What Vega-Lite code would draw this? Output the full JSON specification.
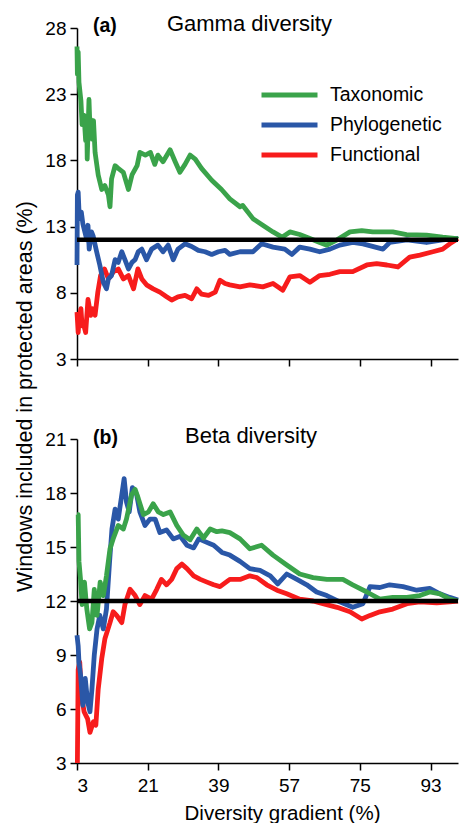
{
  "$schema": "https://vega.github.io/schema/vega-lite/v6.json",
  "padding": {"left": 14, "top": 12, "right": 0, "bottom": 0},
  "config": {
    "font": "Liberation Sans",
    "view": {"stroke": null},
    "axis": {"domainColor": "black", "domainWidth": 1.5, "tickColor": "black", "tickWidth": 1.5, "tickSize": 7, "labelColor": "black", "labelFontSize": 19, "labelFont": "Liberation Sans", "grid": false, "titleFont": "Liberation Sans", "titleColor": "black", "titleFontWeight": "normal"},
    "legend": {"orient": "none", "legendX": 182, "legendY": 53, "symbolType": "stroke", "symbolSize": 3136, "symbolStrokeWidth": 5, "labelFontSize": 19.5, "labelFont": "Liberation Sans", "labelColor": "black", "clipHeight": 28, "rowPadding": 2, "labelOffset": 10, "padding": 0}
  },
  "datasets": {
    "gamma": [
      {"s": "Functional", "x": 3, "y": 6.55}, {"s": "Functional", "x": 3.3, "y": 5.0}, {"s": "Functional", "x": 3.6, "y": 6.2}, {"s": "Functional", "x": 4, "y": 6.8}, {"s": "Functional", "x": 4.3, "y": 5.5}, {"s": "Functional", "x": 4.7, "y": 5.6}, {"s": "Functional", "x": 5.2, "y": 5.0}, {"s": "Functional", "x": 5.8, "y": 7.5}, {"s": "Functional", "x": 6.5, "y": 6.3}, {"s": "Functional", "x": 7, "y": 6.8}, {"s": "Functional", "x": 7.6, "y": 6.3}, {"s": "Functional", "x": 8.3, "y": 8.05}, {"s": "Functional", "x": 9, "y": 9.3}, {"s": "Functional", "x": 10, "y": 9.8}, {"s": "Functional", "x": 11, "y": 9.05}, {"s": "Functional", "x": 12.3, "y": 9.6}, {"s": "Functional", "x": 13.5, "y": 9.8}, {"s": "Functional", "x": 14.8, "y": 9.05}, {"s": "Functional", "x": 16.1, "y": 9.3}, {"s": "Functional", "x": 17.4, "y": 8.3}, {"s": "Functional", "x": 18.5, "y": 9.8}, {"s": "Functional", "x": 19.5, "y": 9.05}, {"s": "Functional", "x": 20.7, "y": 8.6}, {"s": "Functional", "x": 22.4, "y": 8.3}, {"s": "Functional", "x": 24.1, "y": 8.05}, {"s": "Functional", "x": 25.8, "y": 7.7}, {"s": "Functional", "x": 27.1, "y": 7.45}, {"s": "Functional", "x": 28.7, "y": 7.7}, {"s": "Functional", "x": 30.5, "y": 7.8}, {"s": "Functional", "x": 32.2, "y": 7.55}, {"s": "Functional", "x": 33.5, "y": 8.3}, {"s": "Functional", "x": 34.7, "y": 7.9}, {"s": "Functional", "x": 36.5, "y": 7.8}, {"s": "Functional", "x": 38.2, "y": 8.05}, {"s": "Functional", "x": 39.4, "y": 8.95}, {"s": "Functional", "x": 40.7, "y": 8.7}, {"s": "Functional", "x": 41.9, "y": 8.6}, {"s": "Functional", "x": 44.5, "y": 8.45}, {"s": "Functional", "x": 47, "y": 8.6}, {"s": "Functional", "x": 50.3, "y": 8.45}, {"s": "Functional", "x": 52.9, "y": 8.7}, {"s": "Functional", "x": 55.4, "y": 8.2}, {"s": "Functional", "x": 57.2, "y": 9.2}, {"s": "Functional", "x": 59.7, "y": 9.3}, {"s": "Functional", "x": 62.3, "y": 8.8}, {"s": "Functional", "x": 64.8, "y": 9.3}, {"s": "Functional", "x": 67.4, "y": 9.4}, {"s": "Functional", "x": 69.9, "y": 9.6}, {"s": "Functional", "x": 73.2, "y": 9.6}, {"s": "Functional", "x": 76.8, "y": 10.1}, {"s": "Functional", "x": 79.3, "y": 10.2}, {"s": "Functional", "x": 81.9, "y": 10.1}, {"s": "Functional", "x": 84.7, "y": 9.95}, {"s": "Functional", "x": 87.7, "y": 10.7}, {"s": "Functional", "x": 90.3, "y": 10.85}, {"s": "Functional", "x": 93.6, "y": 11.1}, {"s": "Functional", "x": 96.1, "y": 11.3}, {"s": "Functional", "x": 97.9, "y": 11.7}, {"s": "Functional", "x": 99.7, "y": 12.05}, {"s": "Functional", "x": 100, "y": 12.1},
      {"s": "Phylogenetic", "x": 3, "y": 10.1}, {"s": "Phylogenetic", "x": 3.1, "y": 15.4}, {"s": "Phylogenetic", "x": 3.3, "y": 15.6}, {"s": "Phylogenetic", "x": 3.5, "y": 14.2}, {"s": "Phylogenetic", "x": 3.7, "y": 13.6}, {"s": "Phylogenetic", "x": 4.1, "y": 14.1}, {"s": "Phylogenetic", "x": 4.5, "y": 13.2}, {"s": "Phylogenetic", "x": 5, "y": 12.6}, {"s": "Phylogenetic", "x": 5.5, "y": 12.0}, {"s": "Phylogenetic", "x": 5.8, "y": 13.1}, {"s": "Phylogenetic", "x": 6.1, "y": 11.3}, {"s": "Phylogenetic", "x": 6.7, "y": 12.6}, {"s": "Phylogenetic", "x": 7.1, "y": 12.3}, {"s": "Phylogenetic", "x": 8, "y": 11.1}, {"s": "Phylogenetic", "x": 8.8, "y": 10.1}, {"s": "Phylogenetic", "x": 9.7, "y": 8.8}, {"s": "Phylogenetic", "x": 10.5, "y": 8.3}, {"s": "Phylogenetic", "x": 11, "y": 9.05}, {"s": "Phylogenetic", "x": 11.8, "y": 9.3}, {"s": "Phylogenetic", "x": 12.7, "y": 10.5}, {"s": "Phylogenetic", "x": 13.5, "y": 10.3}, {"s": "Phylogenetic", "x": 14.4, "y": 11.1}, {"s": "Phylogenetic", "x": 15.2, "y": 10.5}, {"s": "Phylogenetic", "x": 16.1, "y": 9.8}, {"s": "Phylogenetic", "x": 17, "y": 10.3}, {"s": "Phylogenetic", "x": 17.8, "y": 10.5}, {"s": "Phylogenetic", "x": 18.6, "y": 11.1}, {"s": "Phylogenetic", "x": 19.5, "y": 11.3}, {"s": "Phylogenetic", "x": 20.7, "y": 10.5}, {"s": "Phylogenetic", "x": 22, "y": 11.3}, {"s": "Phylogenetic", "x": 23.6, "y": 11.6}, {"s": "Phylogenetic", "x": 24.9, "y": 11.1}, {"s": "Phylogenetic", "x": 26.2, "y": 11.6}, {"s": "Phylogenetic", "x": 27.5, "y": 10.5}, {"s": "Phylogenetic", "x": 28.7, "y": 11.3}, {"s": "Phylogenetic", "x": 30.5, "y": 11.7}, {"s": "Phylogenetic", "x": 32.2, "y": 11.5}, {"s": "Phylogenetic", "x": 33.9, "y": 11.2}, {"s": "Phylogenetic", "x": 35.6, "y": 11.1}, {"s": "Phylogenetic", "x": 37.3, "y": 10.9}, {"s": "Phylogenetic", "x": 39, "y": 11.1}, {"s": "Phylogenetic", "x": 40.7, "y": 11.2}, {"s": "Phylogenetic", "x": 41.9, "y": 10.9}, {"s": "Phylogenetic", "x": 44.5, "y": 11.1}, {"s": "Phylogenetic", "x": 47.8, "y": 11.1}, {"s": "Phylogenetic", "x": 50, "y": 11.7}, {"s": "Phylogenetic", "x": 52.9, "y": 11.45}, {"s": "Phylogenetic", "x": 55.9, "y": 11.3}, {"s": "Phylogenetic", "x": 57.7, "y": 10.9}, {"s": "Phylogenetic", "x": 59.7, "y": 11.45}, {"s": "Phylogenetic", "x": 62.3, "y": 11.3}, {"s": "Phylogenetic", "x": 64.8, "y": 11.1}, {"s": "Phylogenetic", "x": 67.4, "y": 11.3}, {"s": "Phylogenetic", "x": 69.9, "y": 11.6}, {"s": "Phylogenetic", "x": 73.2, "y": 11.8}, {"s": "Phylogenetic", "x": 75.8, "y": 11.7}, {"s": "Phylogenetic", "x": 80.9, "y": 11.3}, {"s": "Phylogenetic", "x": 82.6, "y": 11.8}, {"s": "Phylogenetic", "x": 87, "y": 12.0}, {"s": "Phylogenetic", "x": 92, "y": 11.8}, {"s": "Phylogenetic", "x": 96.1, "y": 12.0}, {"s": "Phylogenetic", "x": 99.7, "y": 12.1}, {"s": "Phylogenetic", "x": 100, "y": 12.1},
      {"s": "Taxonomic", "x": 3, "y": 26.6}, {"s": "Taxonomic", "x": 3.1, "y": 24.5}, {"s": "Taxonomic", "x": 3.3, "y": 26.2}, {"s": "Taxonomic", "x": 3.5, "y": 23.9}, {"s": "Taxonomic", "x": 4, "y": 22.5}, {"s": "Taxonomic", "x": 4.3, "y": 20.7}, {"s": "Taxonomic", "x": 4.8, "y": 21.4}, {"s": "Taxonomic", "x": 5.2, "y": 19.5}, {"s": "Taxonomic", "x": 5.5, "y": 20.5}, {"s": "Taxonomic", "x": 5.6, "y": 18.1}, {"s": "Taxonomic", "x": 6.05, "y": 22.6}, {"s": "Taxonomic", "x": 6.3, "y": 20.5}, {"s": "Taxonomic", "x": 6.5, "y": 21.1}, {"s": "Taxonomic", "x": 6.9, "y": 19.6}, {"s": "Taxonomic", "x": 7.2, "y": 21}, {"s": "Taxonomic", "x": 7.6, "y": 18.6}, {"s": "Taxonomic", "x": 8.4, "y": 16.9}, {"s": "Taxonomic", "x": 9.3, "y": 15.8}, {"s": "Taxonomic", "x": 10.1, "y": 16.1}, {"s": "Taxonomic", "x": 11, "y": 15.4}, {"s": "Taxonomic", "x": 11.4, "y": 14.5}, {"s": "Taxonomic", "x": 11.8, "y": 16.6}, {"s": "Taxonomic", "x": 12.7, "y": 17.6}, {"s": "Taxonomic", "x": 13.5, "y": 17.4}, {"s": "Taxonomic", "x": 14.8, "y": 17.1}, {"s": "Taxonomic", "x": 16.1, "y": 15.8}, {"s": "Taxonomic", "x": 17, "y": 16.9}, {"s": "Taxonomic", "x": 18.3, "y": 17.6}, {"s": "Taxonomic", "x": 19, "y": 18.6}, {"s": "Taxonomic", "x": 20.4, "y": 18.4}, {"s": "Taxonomic", "x": 21.7, "y": 18.6}, {"s": "Taxonomic", "x": 22.8, "y": 17.7}, {"s": "Taxonomic", "x": 23.6, "y": 18.4}, {"s": "Taxonomic", "x": 24.9, "y": 17.9}, {"s": "Taxonomic", "x": 26.7, "y": 18.8}, {"s": "Taxonomic", "x": 28, "y": 17.9}, {"s": "Taxonomic", "x": 29.2, "y": 17.1}, {"s": "Taxonomic", "x": 30.5, "y": 17.7}, {"s": "Taxonomic", "x": 31.8, "y": 18.4}, {"s": "Taxonomic", "x": 33.1, "y": 18.1}, {"s": "Taxonomic", "x": 34.7, "y": 17.4}, {"s": "Taxonomic", "x": 37.3, "y": 16.5}, {"s": "Taxonomic", "x": 39.8, "y": 15.8}, {"s": "Taxonomic", "x": 41.9, "y": 15.1}, {"s": "Taxonomic", "x": 44.5, "y": 14.5}, {"s": "Taxonomic", "x": 45.2, "y": 14.6}, {"s": "Taxonomic", "x": 47.8, "y": 13.6}, {"s": "Taxonomic", "x": 50.3, "y": 13.1}, {"s": "Taxonomic", "x": 52.9, "y": 12.6}, {"s": "Taxonomic", "x": 55.2, "y": 12.2}, {"s": "Taxonomic", "x": 57.2, "y": 12.6}, {"s": "Taxonomic", "x": 59.7, "y": 12.4}, {"s": "Taxonomic", "x": 62.3, "y": 12.1}, {"s": "Taxonomic", "x": 64.8, "y": 11.8}, {"s": "Taxonomic", "x": 66.6, "y": 11.6}, {"s": "Taxonomic", "x": 69.2, "y": 12.0}, {"s": "Taxonomic", "x": 72.5, "y": 12.6}, {"s": "Taxonomic", "x": 75.5, "y": 12.7}, {"s": "Taxonomic", "x": 78.3, "y": 12.6}, {"s": "Taxonomic", "x": 83.4, "y": 12.6}, {"s": "Taxonomic", "x": 86.9, "y": 12.4}, {"s": "Taxonomic", "x": 92, "y": 12.35}, {"s": "Taxonomic", "x": 96.1, "y": 12.2}, {"s": "Taxonomic", "x": 99.7, "y": 12.1}, {"s": "Taxonomic", "x": 100, "y": 12.05}
    ],
    "beta": [
      {"s": "Functional", "x": 3.1, "y": 3.0}, {"s": "Functional", "x": 3.3, "y": 8.2}, {"s": "Functional", "x": 3.7, "y": 8.6}, {"s": "Functional", "x": 4.1, "y": 6.8}, {"s": "Functional", "x": 4.8, "y": 5.85}, {"s": "Functional", "x": 5.7, "y": 5.45}, {"s": "Functional", "x": 6.3, "y": 4.7}, {"s": "Functional", "x": 7.2, "y": 5.3}, {"s": "Functional", "x": 7.8, "y": 5.1}, {"s": "Functional", "x": 8.4, "y": 7.1}, {"s": "Functional", "x": 9.3, "y": 8.8}, {"s": "Functional", "x": 10.1, "y": 9.9}, {"s": "Functional", "x": 11.4, "y": 10.8}, {"s": "Functional", "x": 12.2, "y": 11.4}, {"s": "Functional", "x": 13.1, "y": 11.2}, {"s": "Functional", "x": 14.4, "y": 10.8}, {"s": "Functional", "x": 15.2, "y": 11.8}, {"s": "Functional", "x": 16.5, "y": 12.65}, {"s": "Functional", "x": 17.8, "y": 12.3}, {"s": "Functional", "x": 19, "y": 11.8}, {"s": "Functional", "x": 20.3, "y": 12.3}, {"s": "Functional", "x": 22, "y": 12.1}, {"s": "Functional", "x": 23.3, "y": 12.65}, {"s": "Functional", "x": 24.5, "y": 13.2}, {"s": "Functional", "x": 25.8, "y": 12.9}, {"s": "Functional", "x": 27.1, "y": 13.2}, {"s": "Functional", "x": 28.4, "y": 13.8}, {"s": "Functional", "x": 29.7, "y": 14.05}, {"s": "Functional", "x": 31, "y": 13.8}, {"s": "Functional", "x": 32.7, "y": 13.4}, {"s": "Functional", "x": 34.4, "y": 13.2}, {"s": "Functional", "x": 36.1, "y": 13.05}, {"s": "Functional", "x": 37.8, "y": 12.9}, {"s": "Functional", "x": 39.4, "y": 12.8}, {"s": "Functional", "x": 41.9, "y": 13.2}, {"s": "Functional", "x": 44.5, "y": 13.2}, {"s": "Functional", "x": 47, "y": 13.4}, {"s": "Functional", "x": 48.8, "y": 13.3}, {"s": "Functional", "x": 51.3, "y": 12.9}, {"s": "Functional", "x": 53.9, "y": 12.6}, {"s": "Functional", "x": 56.4, "y": 12.4}, {"s": "Functional", "x": 59.7, "y": 12.1}, {"s": "Functional", "x": 63.1, "y": 12.0}, {"s": "Functional", "x": 65.6, "y": 11.85}, {"s": "Functional", "x": 69.2, "y": 11.65}, {"s": "Functional", "x": 72.5, "y": 11.4}, {"s": "Functional", "x": 75.5, "y": 11.0}, {"s": "Functional", "x": 77.6, "y": 11.2}, {"s": "Functional", "x": 80.1, "y": 11.4}, {"s": "Functional", "x": 83.4, "y": 11.55}, {"s": "Functional", "x": 87, "y": 11.85}, {"s": "Functional", "x": 90.3, "y": 11.95}, {"s": "Functional", "x": 94.6, "y": 11.9}, {"s": "Functional", "x": 97.9, "y": 11.95}, {"s": "Functional", "x": 100, "y": 12.0},
      {"s": "Phylogenetic", "x": 3, "y": 10.1}, {"s": "Phylogenetic", "x": 3.3, "y": 9.5}, {"s": "Phylogenetic", "x": 3.5, "y": 8.6}, {"s": "Phylogenetic", "x": 3.9, "y": 7.9}, {"s": "Phylogenetic", "x": 4.5, "y": 6.2}, {"s": "Phylogenetic", "x": 5.1, "y": 7.7}, {"s": "Phylogenetic", "x": 5.7, "y": 6.4}, {"s": "Phylogenetic", "x": 6.3, "y": 5.85}, {"s": "Phylogenetic", "x": 6.8, "y": 7.1}, {"s": "Phylogenetic", "x": 7.4, "y": 9.0}, {"s": "Phylogenetic", "x": 8.1, "y": 10.45}, {"s": "Phylogenetic", "x": 8.8, "y": 11.2}, {"s": "Phylogenetic", "x": 9.7, "y": 10.45}, {"s": "Phylogenetic", "x": 10.5, "y": 11.55}, {"s": "Phylogenetic", "x": 11.3, "y": 14.2}, {"s": "Phylogenetic", "x": 11.9, "y": 16.0}, {"s": "Phylogenetic", "x": 12.7, "y": 17.1}, {"s": "Phylogenetic", "x": 13.5, "y": 16.55}, {"s": "Phylogenetic", "x": 14.4, "y": 17.9}, {"s": "Phylogenetic", "x": 15, "y": 18.8}, {"s": "Phylogenetic", "x": 15.6, "y": 17.5}, {"s": "Phylogenetic", "x": 16.3, "y": 16.95}, {"s": "Phylogenetic", "x": 17.1, "y": 18.3}, {"s": "Phylogenetic", "x": 18.2, "y": 17.9}, {"s": "Phylogenetic", "x": 19, "y": 16.95}, {"s": "Phylogenetic", "x": 20.3, "y": 16.2}, {"s": "Phylogenetic", "x": 21.6, "y": 16.55}, {"s": "Phylogenetic", "x": 22.9, "y": 16.55}, {"s": "Phylogenetic", "x": 24.1, "y": 15.8}, {"s": "Phylogenetic", "x": 25.8, "y": 15.95}, {"s": "Phylogenetic", "x": 27.5, "y": 15.45}, {"s": "Phylogenetic", "x": 29.3, "y": 15.6}, {"s": "Phylogenetic", "x": 31, "y": 15.1}, {"s": "Phylogenetic", "x": 32.7, "y": 14.95}, {"s": "Phylogenetic", "x": 34, "y": 15.45}, {"s": "Phylogenetic", "x": 35.6, "y": 15.3}, {"s": "Phylogenetic", "x": 37.8, "y": 15.1}, {"s": "Phylogenetic", "x": 39.9, "y": 14.7}, {"s": "Phylogenetic", "x": 41.9, "y": 14.55}, {"s": "Phylogenetic", "x": 44.5, "y": 14.2}, {"s": "Phylogenetic", "x": 47, "y": 13.8}, {"s": "Phylogenetic", "x": 49.6, "y": 13.7}, {"s": "Phylogenetic", "x": 52.2, "y": 13.4}, {"s": "Phylogenetic", "x": 54.1, "y": 12.95}, {"s": "Phylogenetic", "x": 56.4, "y": 13.5}, {"s": "Phylogenetic", "x": 59, "y": 13.2}, {"s": "Phylogenetic", "x": 61.5, "y": 12.9}, {"s": "Phylogenetic", "x": 64, "y": 12.5}, {"s": "Phylogenetic", "x": 66.6, "y": 12.3}, {"s": "Phylogenetic", "x": 69.9, "y": 11.95}, {"s": "Phylogenetic", "x": 73.2, "y": 11.65}, {"s": "Phylogenetic", "x": 75.8, "y": 11.85}, {"s": "Phylogenetic", "x": 77.6, "y": 12.8}, {"s": "Phylogenetic", "x": 80.1, "y": 12.75}, {"s": "Phylogenetic", "x": 82.6, "y": 12.9}, {"s": "Phylogenetic", "x": 86, "y": 12.8}, {"s": "Phylogenetic", "x": 89.5, "y": 12.6}, {"s": "Phylogenetic", "x": 92.8, "y": 12.7}, {"s": "Phylogenetic", "x": 95.4, "y": 12.4}, {"s": "Phylogenetic", "x": 97.9, "y": 12.2}, {"s": "Phylogenetic", "x": 100, "y": 12.05},
      {"s": "Taxonomic", "x": 3, "y": 16.8}, {"s": "Taxonomic", "x": 3.3, "y": 16.8}, {"s": "Taxonomic", "x": 3.5, "y": 14.2}, {"s": "Taxonomic", "x": 3.9, "y": 13.2}, {"s": "Taxonomic", "x": 4.3, "y": 11.8}, {"s": "Taxonomic", "x": 4.9, "y": 13.05}, {"s": "Taxonomic", "x": 5.5, "y": 11.55}, {"s": "Taxonomic", "x": 6.2, "y": 10.45}, {"s": "Taxonomic", "x": 6.8, "y": 10.8}, {"s": "Taxonomic", "x": 7.4, "y": 12.65}, {"s": "Taxonomic", "x": 8.1, "y": 11.2}, {"s": "Taxonomic", "x": 8.9, "y": 13.05}, {"s": "Taxonomic", "x": 9.7, "y": 12.3}, {"s": "Taxonomic", "x": 10.5, "y": 13.4}, {"s": "Taxonomic", "x": 11.4, "y": 14.9}, {"s": "Taxonomic", "x": 12.2, "y": 15.45}, {"s": "Taxonomic", "x": 13.5, "y": 16.2}, {"s": "Taxonomic", "x": 14.8, "y": 16.0}, {"s": "Taxonomic", "x": 15.6, "y": 16.55}, {"s": "Taxonomic", "x": 16.9, "y": 17.9}, {"s": "Taxonomic", "x": 17.8, "y": 18.2}, {"s": "Taxonomic", "x": 18.6, "y": 17.7}, {"s": "Taxonomic", "x": 19.9, "y": 16.8}, {"s": "Taxonomic", "x": 21.2, "y": 16.95}, {"s": "Taxonomic", "x": 22.4, "y": 17.4}, {"s": "Taxonomic", "x": 23.7, "y": 16.95}, {"s": "Taxonomic", "x": 25, "y": 16.8}, {"s": "Taxonomic", "x": 26.7, "y": 16.95}, {"s": "Taxonomic", "x": 28.4, "y": 16.2}, {"s": "Taxonomic", "x": 30.1, "y": 15.65}, {"s": "Taxonomic", "x": 31.8, "y": 15.4}, {"s": "Taxonomic", "x": 33.5, "y": 16.0}, {"s": "Taxonomic", "x": 35.2, "y": 15.5}, {"s": "Taxonomic", "x": 36.9, "y": 16.0}, {"s": "Taxonomic", "x": 38.6, "y": 15.85}, {"s": "Taxonomic", "x": 39.9, "y": 15.9}, {"s": "Taxonomic", "x": 41.9, "y": 15.8}, {"s": "Taxonomic", "x": 44.5, "y": 15.45}, {"s": "Taxonomic", "x": 47, "y": 14.9}, {"s": "Taxonomic", "x": 50, "y": 15.1}, {"s": "Taxonomic", "x": 52.9, "y": 14.55}, {"s": "Taxonomic", "x": 56.4, "y": 14.0}, {"s": "Taxonomic", "x": 59.7, "y": 13.5}, {"s": "Taxonomic", "x": 63.1, "y": 13.3}, {"s": "Taxonomic", "x": 66.6, "y": 13.2}, {"s": "Taxonomic", "x": 70.7, "y": 13.2}, {"s": "Taxonomic", "x": 73.2, "y": 12.9}, {"s": "Taxonomic", "x": 76.8, "y": 12.5}, {"s": "Taxonomic", "x": 80.1, "y": 12.1}, {"s": "Taxonomic", "x": 83.4, "y": 12.2}, {"s": "Taxonomic", "x": 87, "y": 12.2}, {"s": "Taxonomic", "x": 90.3, "y": 12.3}, {"s": "Taxonomic", "x": 92.8, "y": 12.5}, {"s": "Taxonomic", "x": 95.4, "y": 12.4}, {"s": "Taxonomic", "x": 97.9, "y": 12.1}, {"s": "Taxonomic", "x": 100, "y": 12.0}
    ]
  },
  "resolve": {"scale": {"color": "independent"}, "legend": {"color": "independent"}},
  "bounds": "flush",
  "spacing": 80,
  "vconcat": [
    {
      "width": 381,
      "height": 331,
      "layer": [
        {
          "data": {"name": "gamma"},
          "mark": {"type": "line", "strokeWidth": 4.8, "strokeJoin": "round"},
          "encoding": {
            "x": {"field": "x", "type": "quantitative", "scale": {"domain": [3, 100], "nice": false, "zero": false}, "axis": {"values": [3, 21, 39, 57, 75, 93], "labels": false, "title": null}},
            "y": {"field": "y", "type": "quantitative", "scale": {"domain": [3, 28], "nice": false, "zero": false}, "axis": {"values": [3, 8, 13, 18, 23, 28], "title": null, "labelPadding": 4}},
            "color": {"field": "s", "type": "nominal", "scale": {"domain": ["Taxonomic", "Phylogenetic", "Functional"], "range": ["#3aa34a", "#2a57a7", "#f71c1c"]}, "legend": {"title": null}}
          }
        },
        {"data": {"values": [{}]}, "mark": {"type": "rule", "color": "black", "strokeWidth": 4.5}, "encoding": {"y": {"datum": 12}}},
        {"data": {"values": [{}]}, "mark": {"type": "text", "text": "(a)", "fontWeight": "bold", "fontSize": 19.5, "align": "left", "baseline": "alphabetic", "dy": 4, "font": "Liberation Sans"}, "encoding": {"x": {"datum": 7.07}, "y": {"datum": 28}}},
        {"data": {"values": [{}]}, "mark": {"type": "text", "text": "Gamma diversity", "fontSize": 22, "align": "left", "baseline": "alphabetic", "dy": 2.5, "font": "Liberation Sans"}, "encoding": {"x": {"datum": 25.9}, "y": {"datum": 28}}}
      ]
    },
    {
      "width": 381,
      "height": 324,
      "layer": [
        {
          "data": {"name": "beta"},
          "mark": {"type": "line", "strokeWidth": 4.8, "strokeJoin": "round"},
          "encoding": {
            "x": {"field": "x", "type": "quantitative", "scale": {"domain": [3, 100], "nice": false, "zero": false}, "axis": {"values": [3, 21, 39, 57, 75, 93], "labelPadding": 6, "title": "Diversity gradient (%)", "titleFontSize": 20.5, "titleX": 205, "titleY": 56, "titleBaseline": "alphabetic", "titleAlign": "center"}},
            "y": {"field": "y", "type": "quantitative", "scale": {"domain": [3, 21], "nice": false, "zero": false}, "axis": {"values": [3, 6, 9, 12, 15, 18, 21], "labelPadding": 4, "title": "Windows included in protected areas (%)", "titleFontSize": 21.5, "titleX": -45.5, "titleY": -43, "titleBaseline": "alphabetic", "titleAlign": "center", "titleAngle": 270}},
            "color": {"field": "s", "type": "nominal", "scale": {"domain": ["Taxonomic", "Phylogenetic", "Functional"], "range": ["#3aa34a", "#2a57a7", "#f71c1c"]}, "legend": null}
          }
        },
        {"data": {"values": [{}]}, "mark": {"type": "rule", "color": "black", "strokeWidth": 4.5}, "encoding": {"y": {"datum": 12}}},
        {"data": {"values": [{}]}, "mark": {"type": "text", "text": "(b)", "fontWeight": "bold", "fontSize": 19.5, "align": "left", "baseline": "alphabetic", "dy": 5, "font": "Liberation Sans"}, "encoding": {"x": {"datum": 7.07}, "y": {"datum": 21}}},
        {"data": {"values": [{}]}, "mark": {"type": "text", "text": "Beta diversity", "fontSize": 22, "align": "left", "baseline": "alphabetic", "dy": 4, "font": "Liberation Sans"}, "encoding": {"x": {"datum": 30.5}, "y": {"datum": 21}}}
      ]
    }
  ]
}
